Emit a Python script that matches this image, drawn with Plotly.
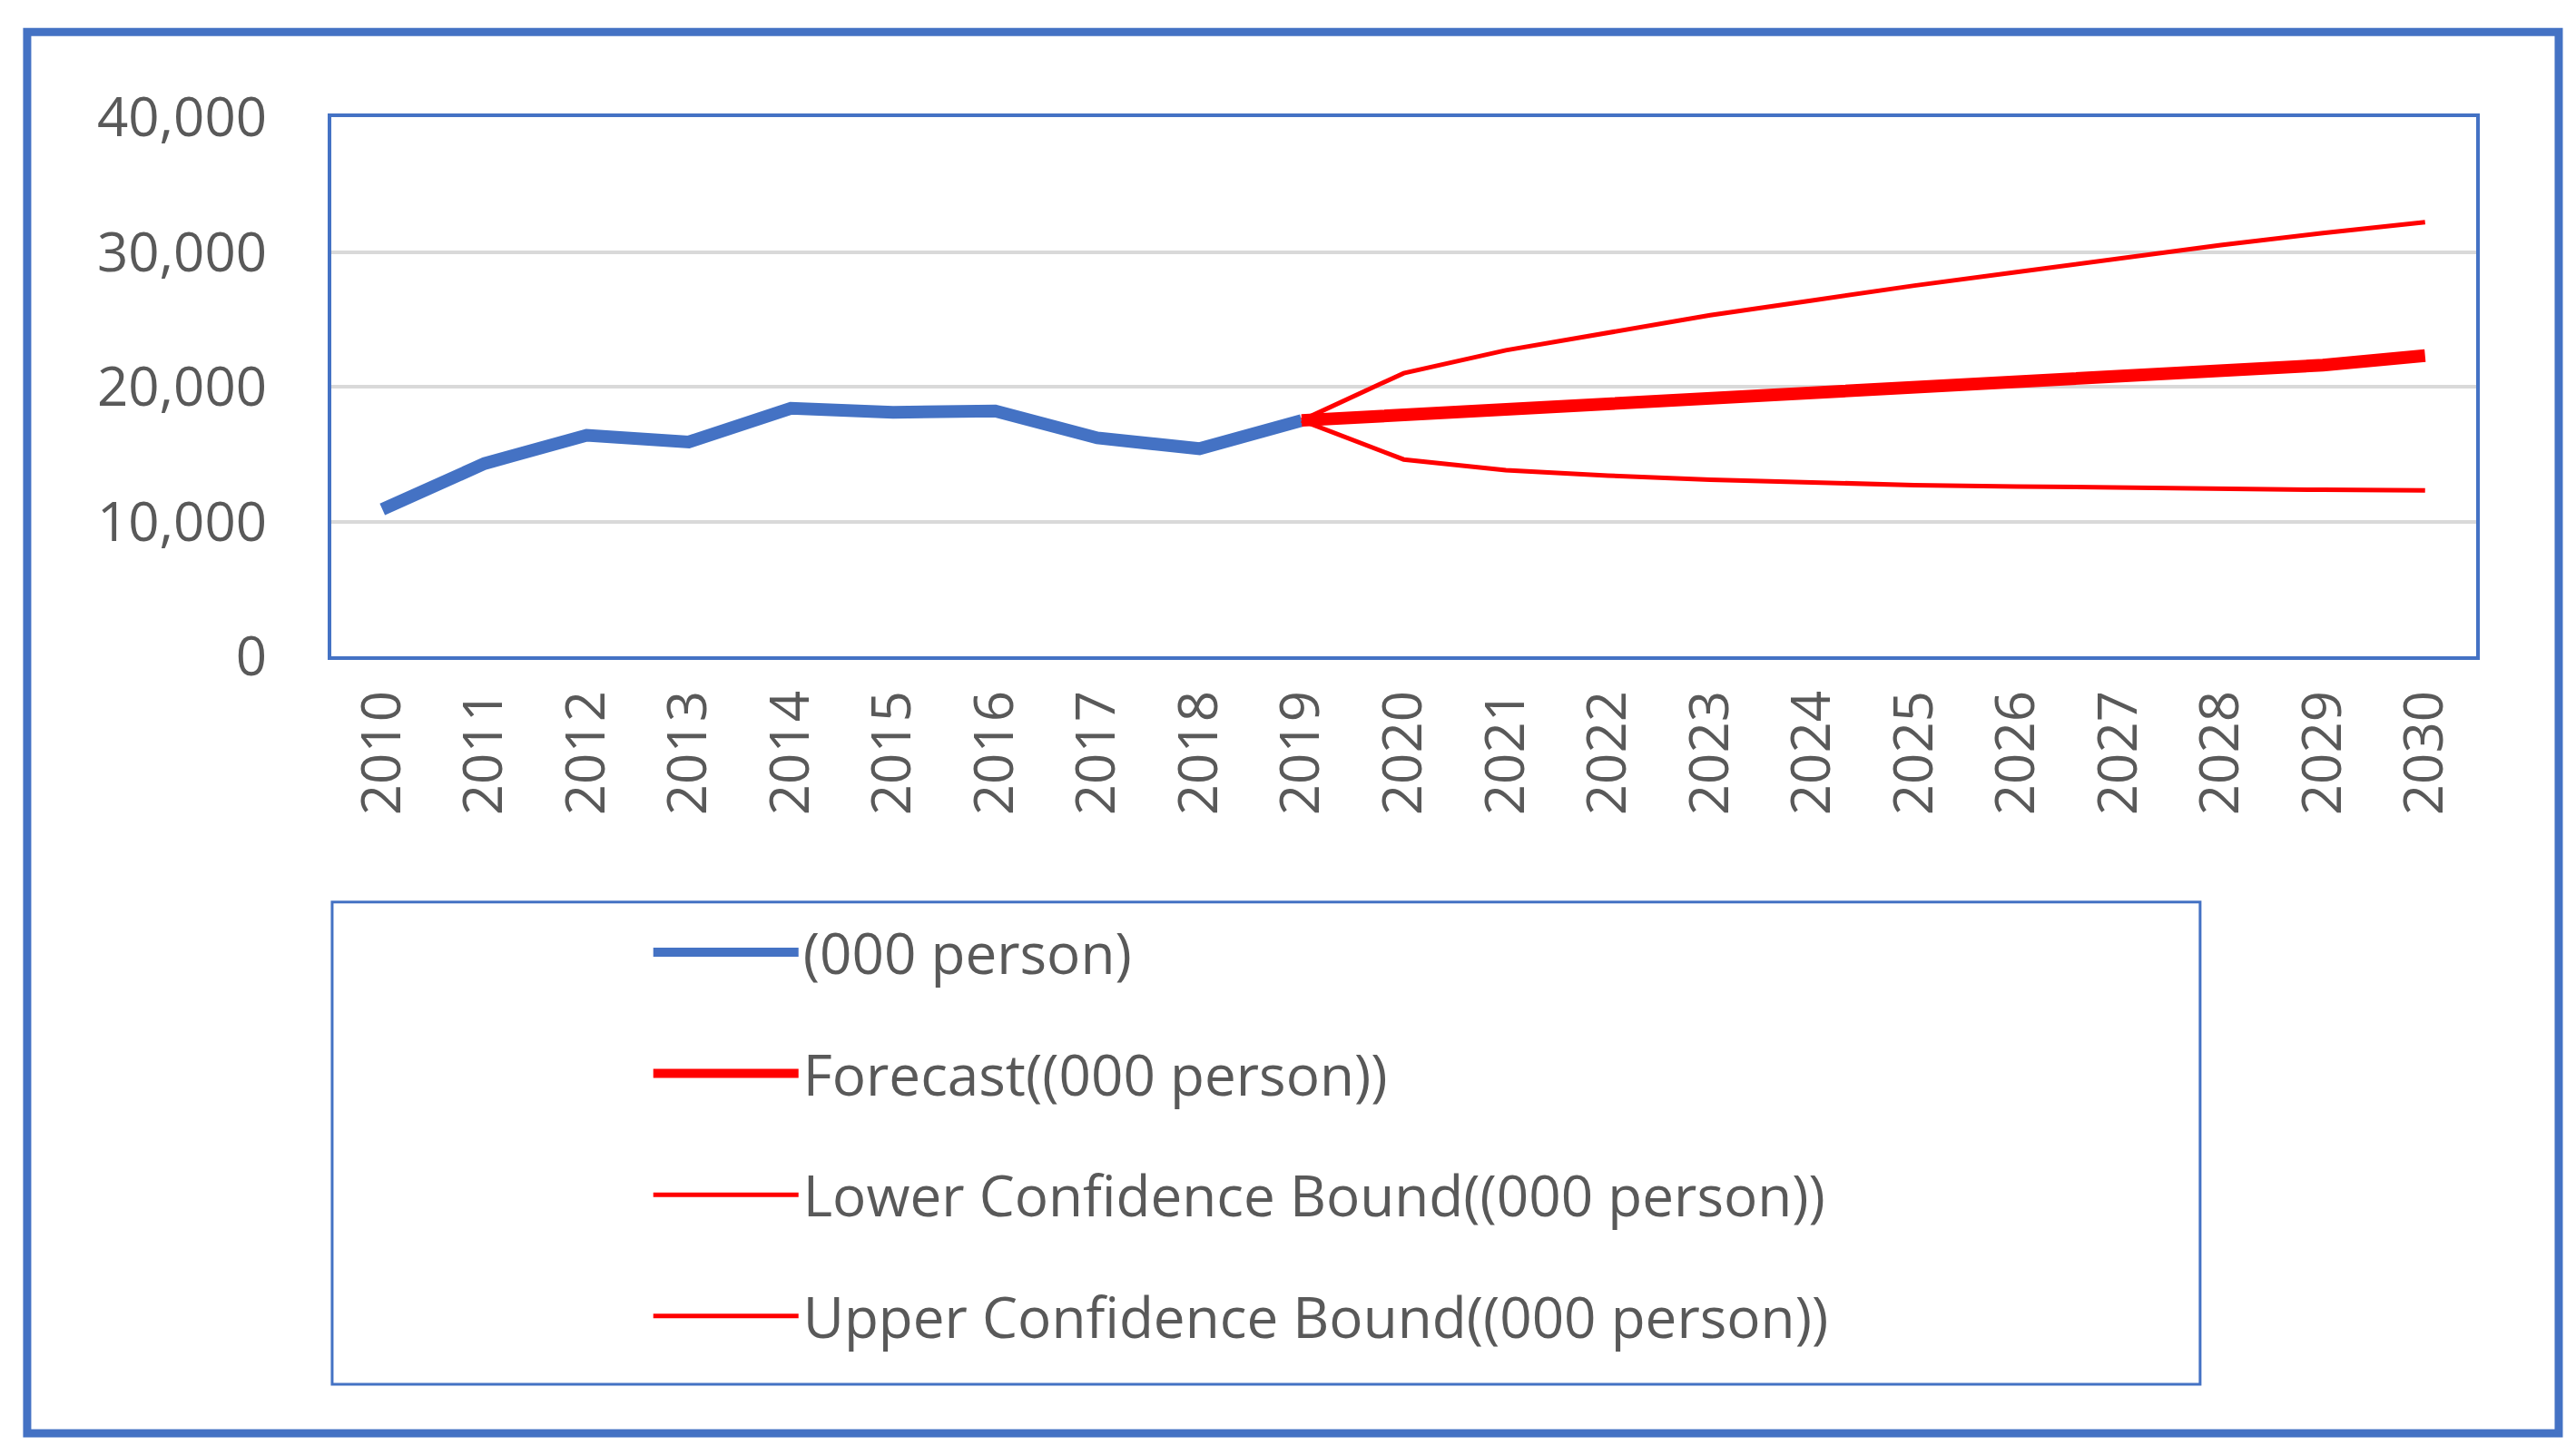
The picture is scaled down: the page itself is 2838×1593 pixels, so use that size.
import plotly.graph_objects as go

years = list(range(2010, 2031))
hist_years = list(range(2010, 2020))
hist_vals = [10900, 14300, 16400, 15900, 18400, 18100, 18200, 16200, 15400, 17500]
fc_years = list(range(2019, 2031))
fc_vals = [17500, 17900, 18300, 18700, 19100, 19500, 19900, 20300, 20700, 21100, 21600, 22300]
lower_vals = [17500, 14600, 13800, 13400, 13100, 12900, 12700, 12600, 12500, 12400, 12350, 12300]
upper_vals = [17500, 21000, 22700, 24000, 25300, 26400, 27500, 28500, 29500, 30500, 31400, 32200]

BLUE = "#4472C4"
RED = "#FF0000"
fig = go.Figure()
fig.add_trace(go.Scatter(x=hist_years, y=hist_vals, mode="lines", name="(000 person)",
                         line=dict(color=BLUE, width=14), legendgroup="a"))
fig.add_trace(go.Scatter(x=fc_years, y=fc_vals, mode="lines", name="Forecast((000 person))",
                         line=dict(color=RED, width=14), legendgroup="b"))
fig.add_trace(go.Scatter(x=fc_years, y=lower_vals, mode="lines", name="Lower Confidence Bound((000 person))",
                         line=dict(color=RED, width=5), legendgroup="c"))
fig.add_trace(go.Scatter(x=fc_years, y=upper_vals, mode="lines", name="Upper Confidence Bound((000 person))",
                         line=dict(color=RED, width=5), legendgroup="d"))

font = dict(family="Open Sans", size=60, color="#595959")
lfont = dict(family="Open Sans", size=62, color="#595959")
fig.update_layout(
    width=2838, height=1593, margin=dict(l=357, r=118, t=121, b=878),
    paper_bgcolor="white", plot_bgcolor="white", font=font,
    legend=dict(x=0.148, y=-0.47, xanchor="left", yanchor="top", font=lfont,
                tracegroupgap=50, itemwidth=160, bgcolor="rgba(0,0,0,0)"),
    xaxis=dict(range=[2009.5, 2030.5], tickmode="array", tickvals=years,
               ticktext=[str(y) for y in years], tickangle=-90, showgrid=False,
               showline=True, linecolor=BLUE, linewidth=4, mirror=True, tickfont=font,
               ticks="", ticklabelstandoff=10),
    yaxis=dict(range=[0, 40000], tickvals=[0, 10000, 20000, 30000, 40000],
               tickformat=",", showgrid=True, gridcolor="#D9D9D9", gridwidth=4,
               showline=True, linecolor=BLUE, linewidth=4, mirror=True, tickfont=font,
               zeroline=False, ticklabelstandoff=55),
    shapes=[
        dict(type="rect", xref="paper", yref="paper", x0=-0.1418, x1=1.0385, y0=-1.441, y1=1.158,
             line=dict(color=BLUE, width=9)),
        dict(type="rect", xref="paper", yref="paper", x0=0.0004, x1=0.8713, y0=-1.350, y1=-0.456,
             line=dict(color=BLUE, width=3)),
    ],
)
fig.write_html("out.html")
